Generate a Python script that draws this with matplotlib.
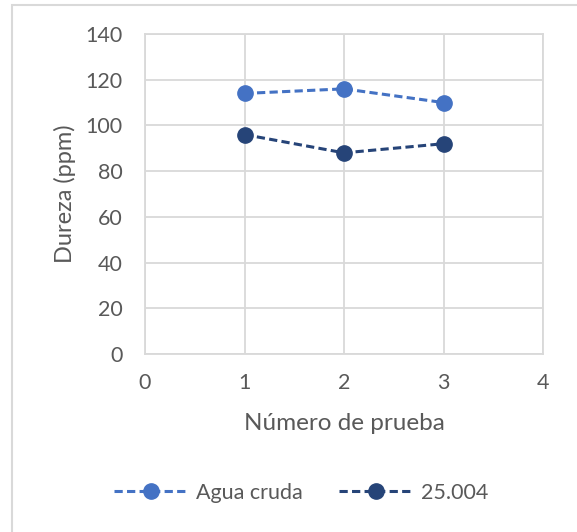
import matplotlib.pyplot as plt
from matplotlib.patches import Rectangle

plt.rcParams['font.family'] = ['Lato', 'DejaVu Sans']

pruebas = [1, 2, 3]
agua_cruda = [114, 116, 110]
muestra_25004 = [96, 88, 92]
series_labels = ['Agua cruda', '25.004']
y_ticks = [0, 20, 40, 60, 80, 100, 120, 140]
x_ticks = [0, 1, 2, 3, 4]

txt = '#595959'
grid_c = '#D9D9D9'

fig = plt.figure(figsize=(5.77, 5.32), dpi=100)
ax = fig.add_axes([145 / 577, 1 - 354 / 532, 398 / 577, 320 / 532])

dash = (0, (2.7, 1.4))
ax.plot(pruebas, agua_cruda, color='#4472C4', linestyle=dash, linewidth=2.2,
        marker='o', markersize=11, label=series_labels[0], zorder=3)
ax.plot(pruebas, muestra_25004, color='#264478', linestyle=dash, linewidth=2.2,
        marker='o', markersize=11, label=series_labels[1], zorder=3)

ax.set_xlim(0, 4)
ax.set_ylim(0, 140)
ax.set_xticks(x_ticks)
ax.set_yticks(y_ticks)
ax.grid(True, color=grid_c, linewidth=1.3)
ax.set_axisbelow(True)
for s in ax.spines.values():
    s.set_color(grid_c)
    s.set_linewidth(1.3)
ax.tick_params(length=0, labelsize=15.5, colors=txt)
ax.tick_params(axis='y', pad=16)
ax.tick_params(axis='x', pad=14)

ax.set_xlabel('Número de prueba', fontsize=17.5, color=txt, labelpad=14)
ax.set_ylabel('Dureza (ppm)', fontsize=17, color=txt, labelpad=7)

fig.legend(loc='center', bbox_to_anchor=(0.522, 1 - 493 / 532), ncol=2,
           frameon=False, fontsize=15.5, labelcolor=txt, handlelength=3.4,
           columnspacing=1.7, handletextpad=0.4)

fig.patches.append(Rectangle((12 / 577, -0.05), 1.1, 1 - 5 / 532 + 0.05,
                             transform=fig.transFigure, fill=False,
                             edgecolor=grid_c, linewidth=1.5))

fig.savefig('out.png', dpi=100)
